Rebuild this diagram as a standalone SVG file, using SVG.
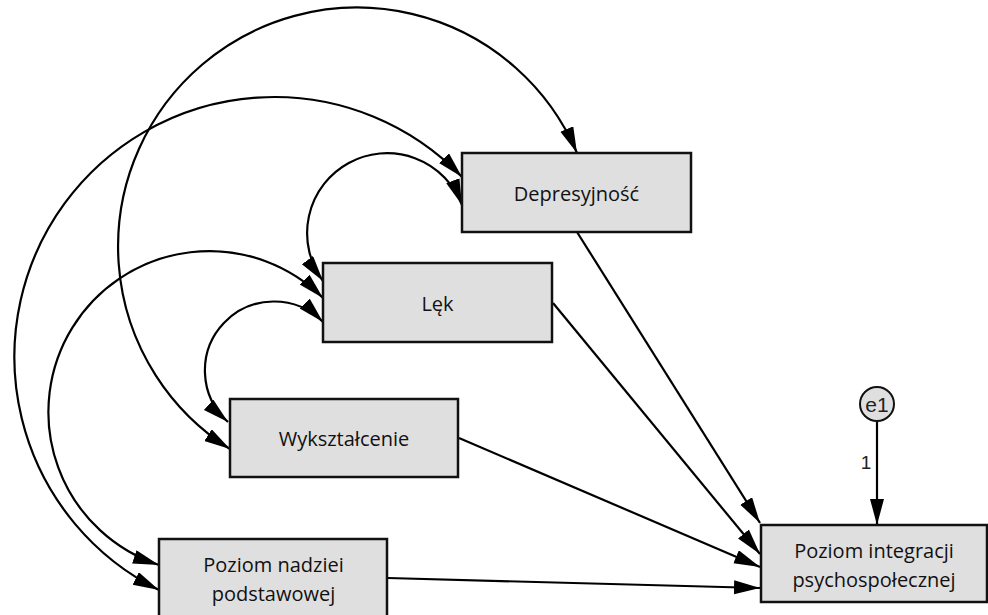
<svg xmlns="http://www.w3.org/2000/svg" width="988" height="615" viewBox="0 0 988 615">
<style>
.box{fill:#dfdfdf;stroke:#111;stroke-width:2.5}
.lbl{font-family:"Open Sans","Noto Sans",sans-serif;font-size:20px;fill:#111;text-anchor:middle}
.edge{fill:none;stroke:#000;stroke-width:2.2;marker-end:url(#ah)}
.cov{fill:none;stroke:#000;stroke-width:2.2;marker-start:url(#ah);marker-end:url(#ah)}
.small{font-family:"Liberation Sans",Arial,sans-serif;fill:#222;text-anchor:middle}
</style>
<defs>
<marker id="ah" markerUnits="userSpaceOnUse" markerWidth="28" markerHeight="16" refX="26" refY="7" orient="auto-start-reverse">
<path d="M0,0 L26,7 L0,14 z" fill="#000"/>
</marker>
</defs>
<rect width="988" height="615" fill="#fff"/>
<g id="connectors">
<path class="edge" d="M577,232 L760,523"/>
<path class="edge" d="M553,303 L760,554"/>
<path class="edge" d="M459,438 L760,567"/>
<path class="edge" d="M388,578 L760,588"/>
<path class="edge" d="M877,421 L877,525"/>
<path class="cov" d="M230,449 A239,239 0 1,1 577,153"/>
<path class="cov" d="M159,590 A260,260 0 1,1 462,177"/>
<path class="cov" d="M159,565 A161,161 0 1,1 323,298"/>
<path class="cov" d="M323,281 A80,80 0 1,1 462,205"/>
<path class="cov" d="M228,422 A69,69 0 1,1 323,322"/>
<text class="small" x="866" y="469" font-size="19">1</text>
</g>
<g id="depresyjnosc">
<rect class="box" x="462" y="153" width="229" height="79"/>
<text class="lbl" x="576.5" y="201">Depresyjność</text>
</g>
<g id="lek">
<rect class="box" x="323" y="263" width="229" height="79"/>
<text class="lbl" x="437.5" y="311">Lęk</text>
</g>
<g id="wyksztalcenie">
<rect class="box" x="230" y="399" width="228" height="78"/>
<text class="lbl" x="344" y="446">Wykształcenie</text>
</g>
<g id="poziom_nadziei">
<rect class="box" x="159" y="539" width="228" height="79"/>
<text class="lbl" x="273.5" y="572">Poziom nadziei</text>
<text class="lbl" x="273.5" y="601">podstawowej</text>
</g>
<g id="poziom_integracji">
<rect class="box" x="761" y="525" width="226" height="77"/>
<text class="lbl" x="874" y="558">Poziom integracji</text>
<text class="lbl" x="874" y="587">psychospołecznej</text>
</g>
<g id="e1">
<circle cx="877" cy="404" r="17" fill="#dfdfdf" stroke="#111" stroke-width="2"/>
<text class="small" x="877" y="411.5" font-size="21">e1</text>
</g>
</svg>
